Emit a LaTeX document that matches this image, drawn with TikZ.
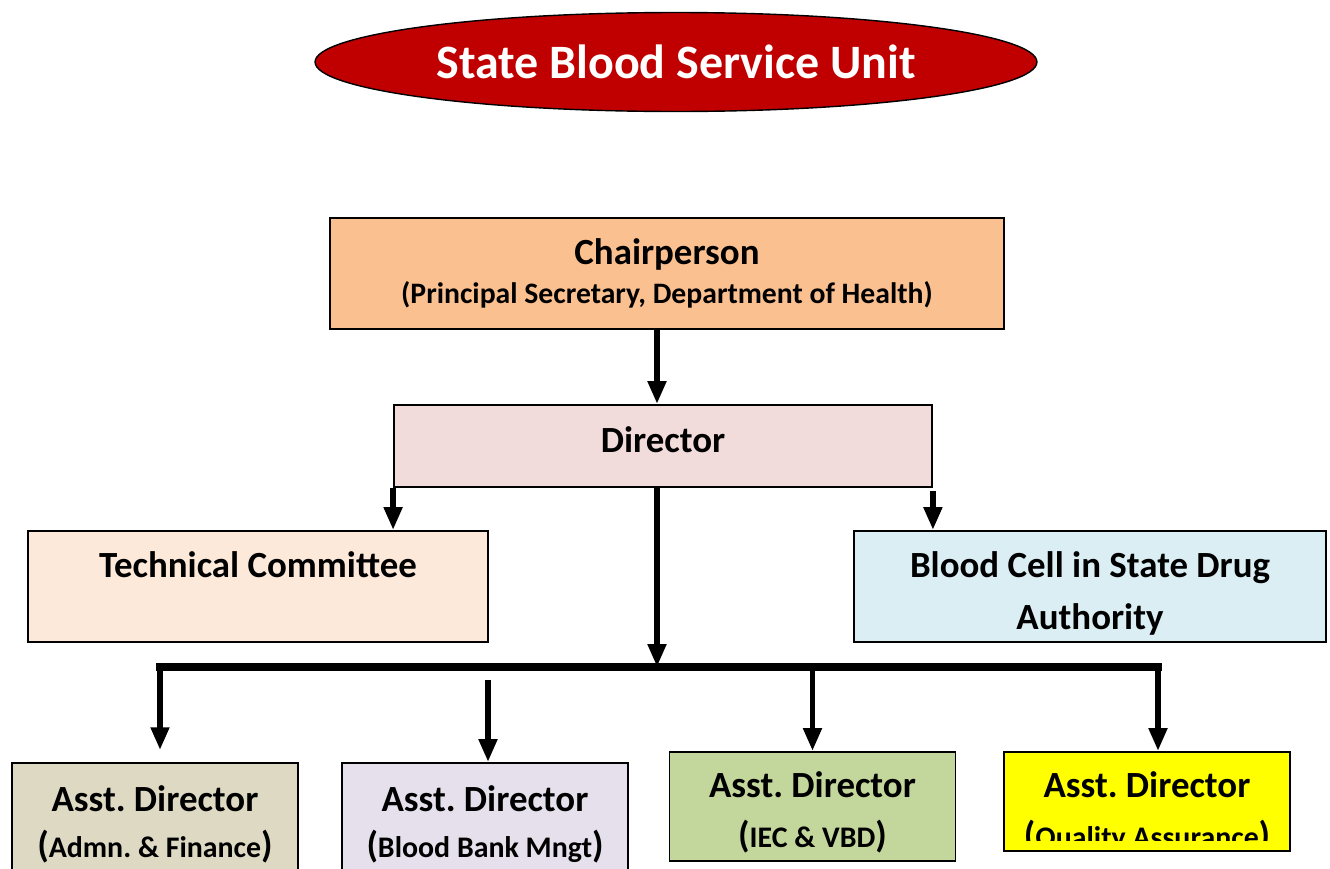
\documentclass[tikz,border=0pt]{standalone}
\usepackage{fontspec}
\setmainfont{Carlito}
\usetikzlibrary{positioning, arrows.meta, shapes.geometric}
\definecolor{unitred}{HTML}{C00000}
\definecolor{chairfill}{HTML}{FAC090}
\definecolor{dirfill}{HTML}{F2DCDB}
\definecolor{techfill}{HTML}{FDE9D9}
\definecolor{cellfill}{HTML}{DBEEF4}
\definecolor{adminfill}{HTML}{DDD9C3}
\definecolor{bankfill}{HTML}{E5E0EC}
\definecolor{iecfill}{HTML}{C3D69B}
\definecolor{qafill}{HTML}{FFFF00}
\frenchspacing
% bracketed second line of the assistant director boxes
\newcommand\unitsub[1]{{\fontsize{21}{26}\selectfont(}{\fontsize{17}{26}\selectfont #1}{\fontsize{21}{26}\selectfont)}}

\begin{document}
\begin{tikzpicture}[
  x=0.02cm, y=-0.02cm,
  every node/.style={font=\bfseries\fontsize{21}{29}\selectfont},
  box/.style={draw, line width=1.1pt, inner sep=0pt, align=center},
  asst/.style={box, minimum width=5.72cm, font=\bfseries\fontsize{21}{26}\selectfont},
  arrow/.style={-{Triangle[width=10pt,length=13pt]}, line width=3.4pt},
  bus/.style={line width=4pt, line cap=rect}
]
  \clip (0,0) rectangle (1330,869);
  \fill[white] (0,0) rectangle (1330,869);

  \node[ellipse, draw, fill=unitred, text=white, line width=0.8pt, inner sep=0pt,
    minimum width=14.44cm, minimum height=1.98cm,
    font=\bfseries\fontsize{27.3}{32}\selectfont] (unit) at (676,62) {State Blood Service Unit};

  \node[box, fill=chairfill, minimum width=13.48cm, minimum height=2.22cm,
    font=\bfseries\fontsize{21}{22}\selectfont] (chair) at (667,273.5)
    {Chairperson\\{\fontsize{16.9}{18}\selectfont (Principal Secretary, Department of Health)}};
  \node[box, fill=dirfill, minimum width=10.76cm, minimum height=1.64cm, text depth=7.5pt] (dir) at (663,446) {Director};
  \node[box, fill=techfill, minimum width=9.2cm, minimum height=2.22cm, font=\bfseries\fontsize{21}{29.5}\selectfont,
    text height=53.4pt, text depth=5pt] (tech) at (258,586.5) {Technical Committee\\ \mbox{}};
  \node[box, fill=cellfill, minimum width=9.44cm, minimum height=2.22cm, font=\bfseries\fontsize{21}{29.5}\selectfont,
    text height=53.4pt, text depth=5pt] (cell) at (1090,586.5) {Blood Cell in State Drug\\Authority};

  \node[asst, fill=adminfill, minimum height=2.44cm] (admin) at (155,824) {Asst. Director\\\unitsub{Admn. \& Finance}};
  \node[asst, fill=bankfill, minimum height=2.44cm] (bank) at (485,824) {Asst. Director\\\unitsub{Blood Bank Mngt}};
  \node[asst, fill=iecfill, minimum height=2.18cm, font=\bfseries\fontsize{21}{28}\selectfont,
    text height=51.3pt, text depth=5pt] (iec) at (812.5,806.5) {Asst. Director\\\unitsub{IEC \& VBD}};
  \node[asst, fill=qafill, minimum height=1.98cm] (qa) at (1147,801.5) {};
  \begin{scope}
    \clip (1004,752) rectangle (1290,840);
    \node[align=center, inner sep=0pt, font=\bfseries\fontsize{21}{28}\selectfont,
      text height=57pt, text depth=5pt] (qatext) at (qa.center)
      {Asst. Director\\\unitsub{Quality Assurance}};
  \end{scope}

  \coordinate (trunk) at (657,667);
  \coordinate (busleft) at (160,667);
  \coordinate (busright) at (1158,667);
  \coordinate (bankdrop) at (488,680);

  \draw[arrow] (trunk |- chair.south) -- (trunk |- dir.north);
  \draw[arrow] (trunk |- dir.south) -- (trunk);
  \draw[arrow] (dir.south west) -- (dir.south west |- tech.north);
  \draw[arrow, shorten <=2pt] (dir.south east) -- (dir.south east |- cell.north);
  \draw[bus] (busleft) -- (busright);
  \draw[arrow, shorten >=6.8pt] (busleft) -- (busleft |- admin.north);
  \draw[arrow] (bankdrop) -- (bankdrop |- bank.north);
  \draw[arrow] (iec.north |- trunk) -- (iec.north);
  \draw[arrow] (busright) -- (busright |- qa.north);
\end{tikzpicture}
\end{document}
